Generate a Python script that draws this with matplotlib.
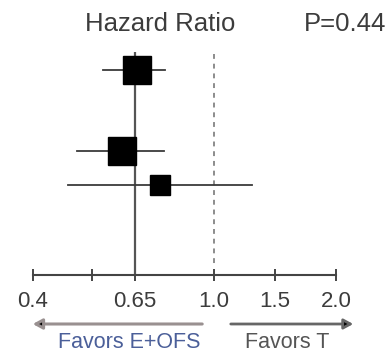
import numpy as np
import matplotlib.pyplot as plt

plt.rcParams["font.family"] = ["Liberation Sans", "DejaVu Sans"]

# values
hazard_ratio = [0.66, 0.605, 0.76]
ci_low = [0.54, 0.475, 0.46]
ci_high = [0.785, 0.78, 1.31]
box_size = [20, 20, 15]          # marker size (pt), reflects weight
row_pos = [0.0, 2.35, 3.33]     # vertical slots of the rows

tick_values = [0.4, 0.65, 1.0, 1.5, 2.0]
tick_labels = ["0.4", "0.65", "1.0", "1.5", "2.0"]
minor_ticks = [0.5]
p_text = "P=0.44"

# the printed axis is neither linear nor log: piecewise from the tick spacing
knots_val = np.array([0.4, 0.5, 0.65, 1.0, 1.5, 2.0])
knots_pos = np.array([0.0, 59.0, 102.0, 181.0, 242.0, 303.0])


def fwd(v):
    return np.interp(v, knots_val, knots_pos, left=np.nan, right=np.nan)


def inv(p):
    return np.interp(p, knots_pos, knots_val)


W, H = 391, 354
fig = plt.figure(figsize=(W / 100, H / 100), dpi=100)
ax = fig.add_axes([33 / W, (H - 275) / H, (336 - 33) / W, 275 / H])
ax.set_xscale("function", functions=(fwd, inv))
ax.set_xlim(0.4, 2.0)
# 34.5 px per row unit, first row 70 px from the top
ax.set_ylim((275 - 70) / 34.5, -70 / 34.5)

text_col = "#3c3c3c"

ax.plot([0.65, 0.65], [-0.52, 6], color="#555555", lw=1.6, zorder=2, solid_capstyle="butt")
ax.plot([1.0, 1.0], [-0.45, 5.7], color="#8c8c8c", lw=1.4, ls=(0, (2.5, 2.5)), zorder=1)

for hr, lo, hi, y, s in zip(hazard_ratio, ci_low, ci_high, row_pos, box_size):
    ax.plot([lo, hi], [y, y], color="#3a3a3a", lw=1.3, zorder=3)
    ax.plot(hr, y, marker="s", ms=s, color="black", zorder=4)

for side in ["top", "left", "right"]:
    ax.spines[side].set_visible(False)
ax.spines["bottom"].set_color("#444444")
ax.spines["bottom"].set_linewidth(1.5)
ax.set_yticks([])
ax.set_xticks(tick_values)
ax.set_xticklabels(tick_labels)
ax.set_xticks(minor_ticks, minor=True)
ax.tick_params(axis="x", which="both", direction="inout", length=9, width=1.4,
               color="#444444", labelsize=16, labelcolor=text_col, pad=7)
ax.patch.set_alpha(0)

# header texts
fig.text(160 / W, (H - 24) / H, "Hazard Ratio", ha="center", va="center",
         fontsize=18.5, color=text_col)
fig.text(345 / W, (H - 24) / H, p_text, ha="center", va="center",
         fontsize=18.5, color=text_col)

# favours arrows
head = "-|>,head_length=0.55,head_width=0.3"
ax.annotate("", xy=(30, H - 324), xytext=(205, H - 324), xycoords="figure pixels",
            textcoords="figure pixels",
            arrowprops=dict(arrowstyle=head, color="#999090", lw=2.2, fc="black", ec="#999090"))
ax.annotate("", xy=(356, H - 324), xytext=(228, H - 324), xycoords="figure pixels",
            textcoords="figure pixels",
            arrowprops=dict(arrowstyle=head, color="#666666", lw=2.0, fc="black", ec="#666666"))
fig.text(129 / W, 1 / H, "Favors E+OFS", ha="center", va="bottom",
         fontsize=15.5, color="#4b5f99")
fig.text(287 / W, 1 / H, "Favors T", ha="center", va="bottom",
         fontsize=15.5, color="#555555")

fig.savefig("out.png", dpi=100, facecolor="white")
